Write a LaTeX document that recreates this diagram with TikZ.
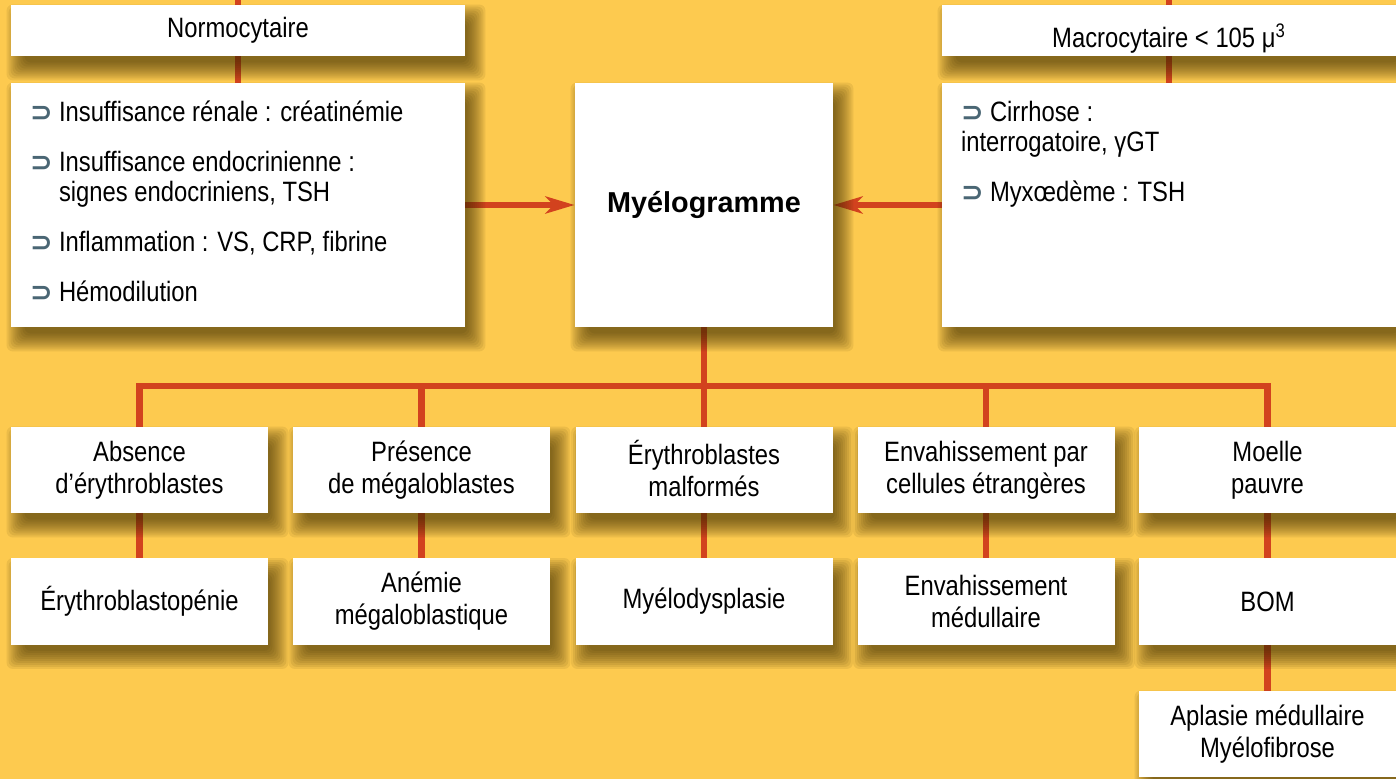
\documentclass[tikz,border=0pt]{standalone}
\usepackage{fontspec}
\setmainfont{Liberation Sans}[FakeStretch=0.85]
\newfontfamily\titlefont{Liberation Sans}
\newfontfamily\bulfont{DejaVu Sans}
\usetikzlibrary{arrows.meta}

\definecolor{bgyellow}{HTML}{FDCA4F}
\definecolor{wirered}{HTML}{D2421E}
\definecolor{bulgray}{HTML}{4A6674}
\definecolor{shadowbrown}{HTML}{3A2A00}

\pgfdeclarelayer{paperlayer}
\pgfdeclarelayer{wirelayer}
\pgfdeclarelayer{shadelayer}
\pgfsetlayers{paperlayer,wirelayer,shadelayer,main}

\newcommand\bul{\makebox[14.5pt][l]{\bulfont\bfseries\fontsize{13.5pt}{12pt}\selectfont\color{bulgray}⊃}}
\newcommand\listblock[1]{\parbox[c][122pt][t]{208pt}{\fontsize{14pt}{15pt}\selectfont\setlength\parskip{10pt}\vspace*{-1pt}#1}}

\begin{document}
\begin{tikzpicture}[x=0.5pt, y=-0.5pt,
    cell/.style={fill=white, minimum width=128.5pt, minimum height=43pt, inner sep=2pt, align=center, font=\fontsize{14pt}{16pt}\selectfont},
    headbox/.style={fill=white, minimum width=227pt, minimum height=25.5pt, inner sep=2pt, font=\fontsize{14pt}{16pt}\selectfont},
    listbox/.style={fill=white, minimum width=227pt, minimum height=122pt, inner sep=0pt},
    wire/.style={draw=wirered, line width=3.2pt},
    shadowstep/.style={fill=shadowbrown, opacity=0.085, rounded corners=3pt}]
  \useasboundingbox (0,0) rectangle (1396,779);

  \node (normo) [headbox] at (238,30.5) {Normocytaire};
  \node (normlist) [listbox] at (238,205) {\listblock{%
      \bul Insuffisance rénale : créatinémie\par
      \hangindent=14.5pt\hangafter=1 \bul Insuffisance endocrinienne :\\signes endocriniens, TSH\par
      \bul Inflammation : VS, CRP, fibrine\par
      \bul Hémodilution}};
  \node (macro) [headbox] at (1169,30.5) {\raisebox{-8.5pt}[0pt][0pt]{Macrocytaire < 105 μ\textsuperscript{3}}};
  \node (macrolist) [listbox] at (1169,205) {\listblock{%
      \bul Cirrhose :\\interrogatoire, γGT\par
      \bul Myxœdème : TSH}};
  \node (myelo) [fill=white, minimum width=129pt, minimum height=122pt, font=\titlefont\bfseries\fontsize{14.4pt}{16pt}\selectfont] at (704,205) {Myélogramme};

  \node (absent) [cell] at (139.5,470) {Absence\\d’érythroblastes};
  \node (presence) [cell] at (421.5,470) {Présence\\de mégaloblastes};
  \node (malformes) [cell] at (704,470) {\smash{É}rythroblastes\\malformés};
  \node (envahis) [cell] at (986,470) {Envahissement par\\cellules étrangères};
  \node (pauvre) [cell] at (1267.5,470) {Moelle\\pauvre};

  \node (erythro) [cell] at (139.5,601.5) {Érythroblastopénie};
  \node (megalo) [cell] at (421.5,601.5) {Anémie\\mégaloblastique};
  \node (dysplasie) [cell] at (704,601.5) {Myélodysplasie};
  \node (medul) [cell] at (986,601.5) {Envahissement\\médullaire};
  \node (bom) [cell] at (1267.5,601.5) {BOM};
  \node (aplasie) [cell] at (1267.5,734) {Aplasie médullaire\\Myélofibrose};

  \coordinate (normtop) at (238,-10);
  \coordinate (macrotop) at (1169,-10);
  \coordinate (bus) at (704,386);

  \begin{pgfonlayer}{paperlayer}
    \fill [bgyellow] (0,0) rectangle (1396,779);
  \end{pgfonlayer}

  % soft drop shadows
  \begin{pgfonlayer}{shadelayer}
    \foreach \n in {normo, normlist, macro, macrolist, myelo, absent, presence, malformes, envahis, pauvre, erythro, megalo, dysplasie, medul, bom, aplasie}
      \foreach \d in {-3,...,6}
        \fill [shadowstep] ([xshift={(4-(\d))*1pt}, yshift={(-6-(\d))*1pt}]\n.south west) rectangle ([xshift={(4+(\d))*1pt}, yshift={(-6+(\d))*1pt}]\n.north east);
  \end{pgfonlayer}

  \begin{pgfonlayer}{wirelayer}
    \draw [wire] (normtop) -- (normo);
    \draw [wire] (normo) -- (normlist);
    \draw [wire] (macrotop) -- (macro);
    \draw [wire] (macro) -- (macrolist);
    \draw [wire, -{Stealth[length=14.5pt, width=8.5pt, inset=4pt]}] (normlist) -- (myelo);
    \draw [wire, -{Stealth[length=14.5pt, width=8.5pt, inset=4pt]}] (macrolist) -- (myelo);
    \draw [wire] (myelo) -- (bus);
    \foreach \n in {absent, presence, malformes, envahis, pauvre}
      \draw [wire] (bus) -| (\n);
    \draw [wire] (absent) -- (erythro);
    \draw [wire] (presence) -- (megalo);
    \draw [wire] (malformes) -- (dysplasie);
    \draw [wire] (envahis) -- (medul);
    \draw [wire] (pauvre) -- (bom);
    \draw [wire] (bom) -- (aplasie);
  \end{pgfonlayer}
\end{tikzpicture}
\end{document}
